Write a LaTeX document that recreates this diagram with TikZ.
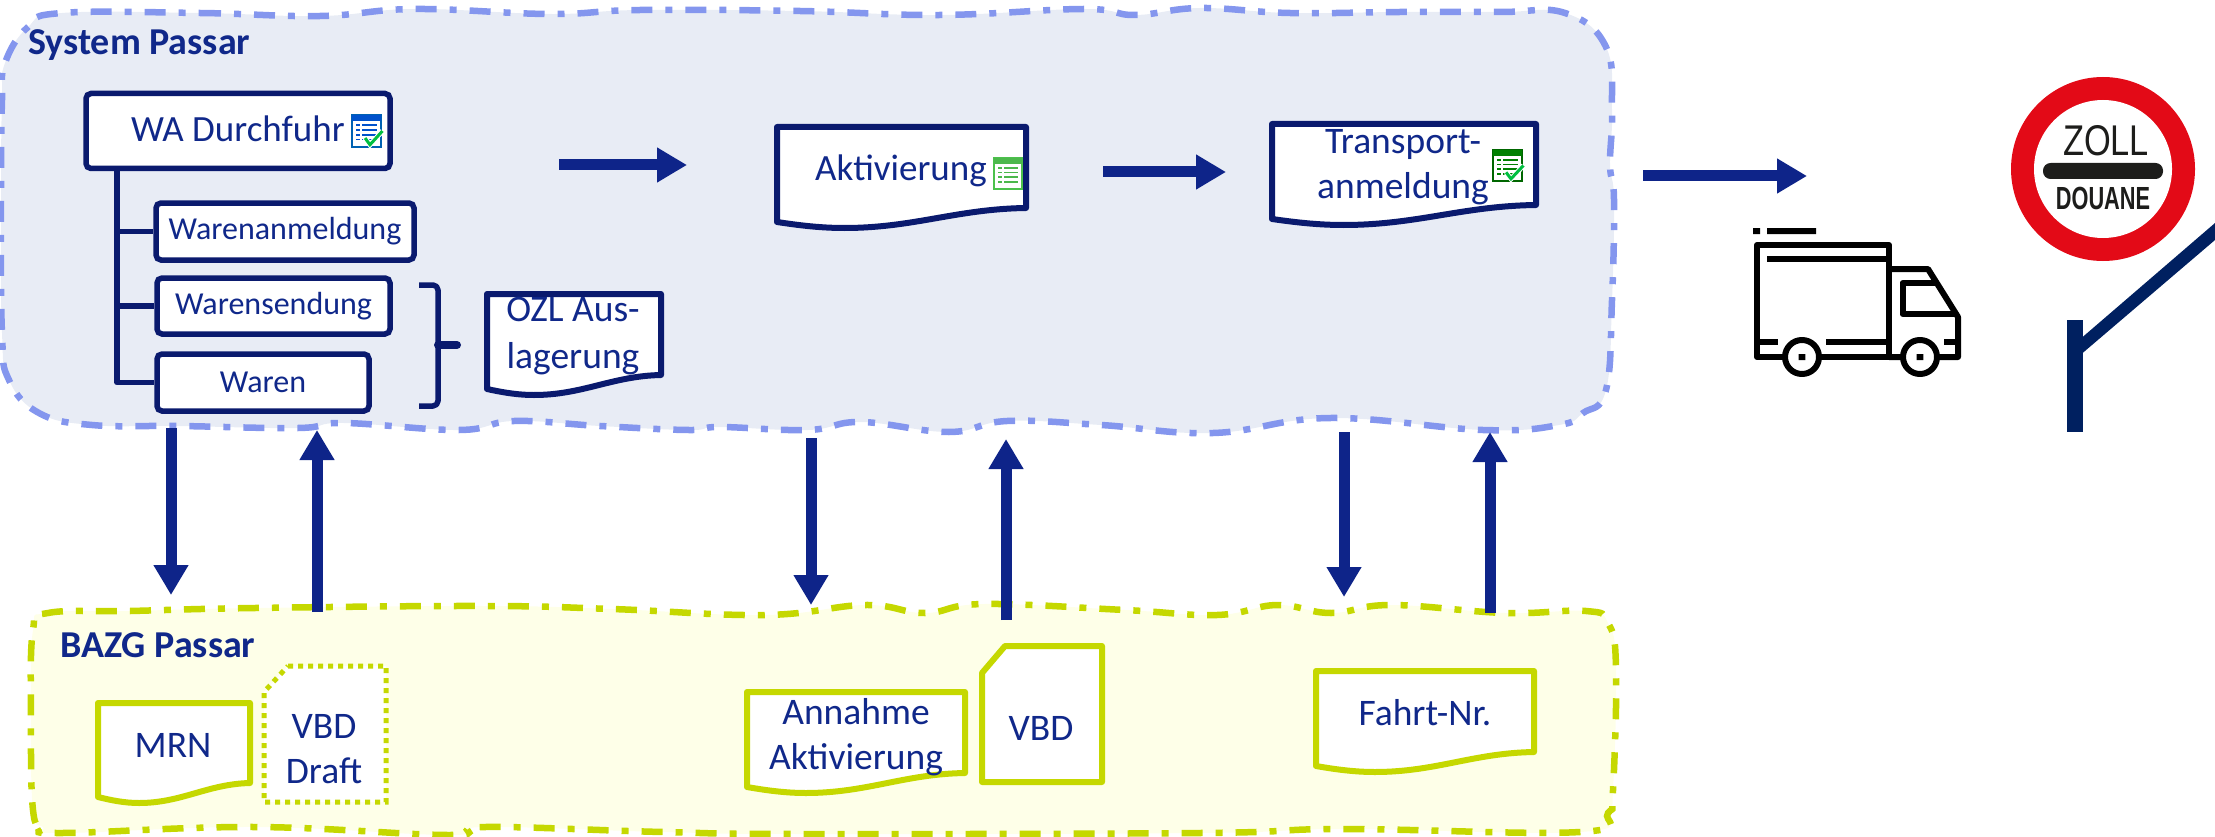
\documentclass[tikz,border=0pt]{standalone}
\usepackage{fontspec}
\setmainfont{Carlito}
\newfontfamily\signfont{Liberation Sans}
\usetikzlibrary{arrows.meta}
\definecolor{navy}{HTML}{0A1A6E}
\definecolor{arrowblue}{HTML}{0E2489}
\definecolor{txtblue}{HTML}{10288A}
\definecolor{sysfill}{HTML}{E8ECF5}
\definecolor{sysline}{HTML}{8496EE}
\definecolor{bazfill}{HTML}{FEFFE8}
\definecolor{bazline}{HTML}{C5D800}
\definecolor{signred}{HTML}{E30A17}
\definecolor{signblack}{HTML}{1D1D1B}
\definecolor{postblue}{HTML}{002060}
\tikzset{
  regionline/.style={line width=6.5pt,dash pattern=on 21pt off 13pt on 7pt off 13pt},
  bluebox/.style={draw=navy,line width=5.5pt,fill=white,rounded corners=5pt,inner sep=0pt,text=txtblue,font=\fontsize{32}{40}\selectfont},
  label/.style={text=txtblue,inner sep=0pt,align=center,font=\fontsize{37.5}{45}\selectfont},
  title/.style={text=txtblue,inner sep=0pt,anchor=west,font=\fontsize{38}{45}\selectfont\bfseries},
  flow/.style={draw=arrowblue,line width=11pt,-{Triangle[length=30pt,width=33pt]}},
  treeline/.style={draw=navy,line width=5.5pt,line join=round},
  truckline/.style={draw=black,line width=6pt,line join=round},
  signtext/.style={text=signblack,inner sep=0pt},
}
% l t r rb colour
\newcommand{\docpath}[5]{%
  \draw[#5,line width=6pt,line join=round,fill=white] (#1,#2) -- (#3,#2) -- (#3,#4)
    .. controls ({#1+.72*(#3-#1)},{#4+1}) and ({#1+.55*(#3-#1)},{#4+20}) .. ({#1+.27*(#3-#1)},{#4+20})
    .. controls ({#1+.17*(#3-#1)},{#4+20}) and ({#1+.08*(#3-#1)},{#4+17}) .. (#1,{#4+14}) -- cycle;}
% x y w h frame header check?
\newcommand{\sheeticon}[7]{%
  \begin{scope}[shift={(#1,#2)}]
    \draw[#5,line width=1.5pt,fill=white] (0,0) rectangle (#3,#4);
    \fill[#6] (0,0) rectangle (#3,{.18*#4});
    \foreach \r in {.32,.47,.62,.77}{
      \draw[#6,line width=1.6pt] ({.15*#3},{\r*#4}) -- ({.28*#3},{\r*#4});
      \draw[#6,line width=1.6pt] ({.36*#3},{\r*#4}) -- ({.85*#3},{\r*#4});}
    \ifx#7y
      \draw[white,line width=5pt] ({.45*#3},{.72*#4}) -- ({.62*#3},{.93*#4}) -- ({1.05*#3},{.5*#4});
      \draw[green!50!teal,line width=3pt] ({.45*#3},{.72*#4}) -- ({.62*#3},{.93*#4}) -- ({1.05*#3},{.5*#4});
    \fi
  \end{scope}}
\begin{document}
\begin{tikzpicture}[x=1pt,y=-1pt]
\useasboundingbox (0,0) rectangle (2215,837);
\clip (0,0) rectangle (2215,837);
% ---- regions
\draw[regionline,draw=sysline,fill=sysfill] plot[smooth cycle,tension=.7] coordinates {
 (62,13) (200,13) (320,16) (415,9) (550,14) (640,10) (800,11)
 (940,15) (1084,9) (1135,15) (1200,8) (1290,13) (1400,12) (1500,12) (1565,13) (1606,47)
 (1612,110) (1610,165) (1614,200) (1612,300) (1606,390) (1583,413) (1559,425) (1483,430)
 (1330,418) (1213,433) (1101,425) (1007,421) (949,432) (861,422) (808,430) (720,427) (689,430)
 (600,426) (514,421) (459,430) (344,423) (298,428) (180,426) (92,425) (39,413) (9,380) (2,333) (1,200) (2,100) (5,63) (28,27)};
\draw[regionline,draw=bazline,fill=bazfill] plot[smooth cycle,tension=.7] coordinates {
 (48,613) (130,611) (255,608) (485,606) (612,609) (765,615) (865,605) (925,613) (984,604) (1125,610)
 (1217,615) (1277,605) (1331,613) (1391,605) (1505,613) (1586,611) (1608,623) (1616,667) (1613,790)
 (1608,813) (1580,832) (1342,829) (1200,833) (800,834) (663,832) (485,827) (449,835) (255,827) (61,833)
 (43,827) (33,810) (31,720) (33,630)};
\node[title] (systitle) at (28,45) {System Passar};
\node[title] (baztitle) at (60,645) {BAZG Passar};
% ---- tree of boxes
\node[bluebox,minimum width=304pt,minimum height=75pt] (wa) at (238,131) {};
\node[label,anchor=west,font=\fontsize{37}{45}\selectfont] (watext) at (131,129) {WA Durchfuhr};
\node[bluebox,minimum width=258pt,minimum height=57pt] (wan) at (285,231.5) {Warenanmeldung};
\node[bluebox,minimum width=233pt,minimum height=56pt] (wse) at (273.5,306) {Warensendung};
\node[bluebox,minimum width=212pt,minimum height=57pt] (war) at (263,382.5) {Waren};
\coordinate (trunk) at (117,168);
\draw[treeline] (trunk) -- (trunk |- war.west) -- (war.west);
\draw[treeline] (trunk |- wan.west) -- (wan.west);
\draw[treeline] (trunk |- wse.west) -- (wse.west);
\coordinate (brtop) at (419,285);
\coordinate (brbot) at (419,406);
\coordinate (brtip) at (457,345);
\draw[treeline,rounded corners=5pt] (brtop) -- (438,285) -- (438,406) -- (brbot);
\draw[draw=navy,line width=8pt,line cap=round] (438,345) -- (brtip);
% ---- documents in system
\docpath{487}{294}{661}{375}{draw=navy}
\node[label] (ozl) at (573,336) {OZL Aus-\\[2pt]lagerung};
\docpath{777}{127}{1026}{208}{draw=navy}
\node[label,anchor=west,font=\fontsize{37}{45}\selectfont] (akt) at (815,171) {Aktivierung};
\docpath{1272}{124}{1536}{205}{draw=navy}
\node[label] (tra) at (1403,167) {Transport-\\anmeldung};
\sheeticon{352}{115}{29}{32}{blue!45!cyan!70!black}{blue!60!cyan!80!black}{y}
\sheeticon{994}{158}{28}{31}{green!65!black!70}{green!60!black!70}{n}
\sheeticon{1493}{150}{29}{31}{green!40!black}{green!50!black}{y}
% ---- documents in BAZG
\docpath{98}{703}{250}{783}{draw=bazline}
\node[label] (mrn) at (173,745) {MRN};
\draw[draw=bazline,line width=5pt,fill=white,dash pattern=on 5pt off 5pt]
  (288,666) -- (386,666) -- (386,802) -- (264,802) -- (264,692) -- cycle;
\node[label] (vbdd) at (324,749) {VBD\\Draft};
\docpath{747}{692}{965}{773}{draw=bazline}
\node[label] (ann) at (856,737) {Annahme\\Aktivierung};
\draw[draw=bazline,line width=6pt,line join=round,fill=white]
  (1005,646) -- (1102,646) -- (1102,782) -- (982,782) -- (982,673) -- cycle;
\node[label] (vbd) at (1041,728) {VBD};
\docpath{1316}{671}{1534}{752}{draw=bazline}
\node[label] (fah) at (1425,713) {Fahrt-Nr.};
% ---- horizontal arrows
\coordinate (h1a) at (559,165); \coordinate (h1b) at (687,165);
\coordinate (h2a) at (1103,172); \coordinate (h2b) at (1226,172);
\coordinate (h3a) at (1643,176); \coordinate (h3b) at (1807,176);
\draw[flow] (h1a) -- (h1b);
\draw[flow] (h2a) -- (h2b);
\draw[flow] (h3a) -- (h3b);
% ---- vertical arrows
\coordinate (d1a) at (171,428); \coordinate (d1b) at (171,595);
\coordinate (u1a) at (317,612); \coordinate (u1b) at (317,430);
\coordinate (d2a) at (811,438); \coordinate (d2b) at (811,605);
\coordinate (u2a) at (1006,620); \coordinate (u2b) at (1006,439);
\coordinate (d3a) at (1344,432); \coordinate (d3b) at (1344,597);
\coordinate (u3a) at (1490,613); \coordinate (u3b) at (1490,432);
\foreach \a/\b in {d1a/d1b,u1a/u1b,d2a/d2b,u2a/u2b,d3a/d3b,u3a/u3b}
  \draw[flow] (\a) -- (\b);
% ---- truck
\draw[truckline,fill=white] (1757,245) rectangle (1889,357);
\draw[truckline] (1889,269) -- (1928,269) -- (1958,317) -- (1958,357) -- (1889,357);
\draw[truckline] (1935,283) -- (1902.5,283) -- (1902.5,314) -- (1956,314);
\fill[black] (1753,228) rectangle (1760,234) (1767,228) rectangle (1816,234);
\draw[truckline] (1767,259) -- (1886,259);
\draw[truckline] (1760,342) -- (1777.5,342) (1826,342) -- (1886,342) (1944,342) -- (1955,342);
\draw[truckline,fill=white] (1802,357) circle[radius=17];
\draw[truckline,fill=white] (1920,357) circle[radius=17];
\fill[black] (1798.7,354) rectangle (1805.3,360) (1916.7,354) rectangle (1923.3,360);
% ---- customs sign
\fill[postblue] (2082.6,337) -- (2215,223) -- (2215,240) -- (2082.6,353) -- cycle;
\fill[postblue] (2066.5,320) rectangle (2082.6,432);
\fill[signred] (2103,169) circle[radius=92];
\fill[white] (2103,169) circle[radius=69];
\fill[signblack,rounded corners=7.5pt] (2043,163) rectangle (2163,179);
\node[signtext,xscale=.8,font=\signfont\fontsize{43}{43}\selectfont] (zoll) at (2106,141) {ZOLL};
\node[signtext,xscale=.68,font=\signfont\bfseries\fontsize{32}{32}\selectfont] (douane) at (2103,198.5) {DOUANE};
\end{tikzpicture}
\end{document}
